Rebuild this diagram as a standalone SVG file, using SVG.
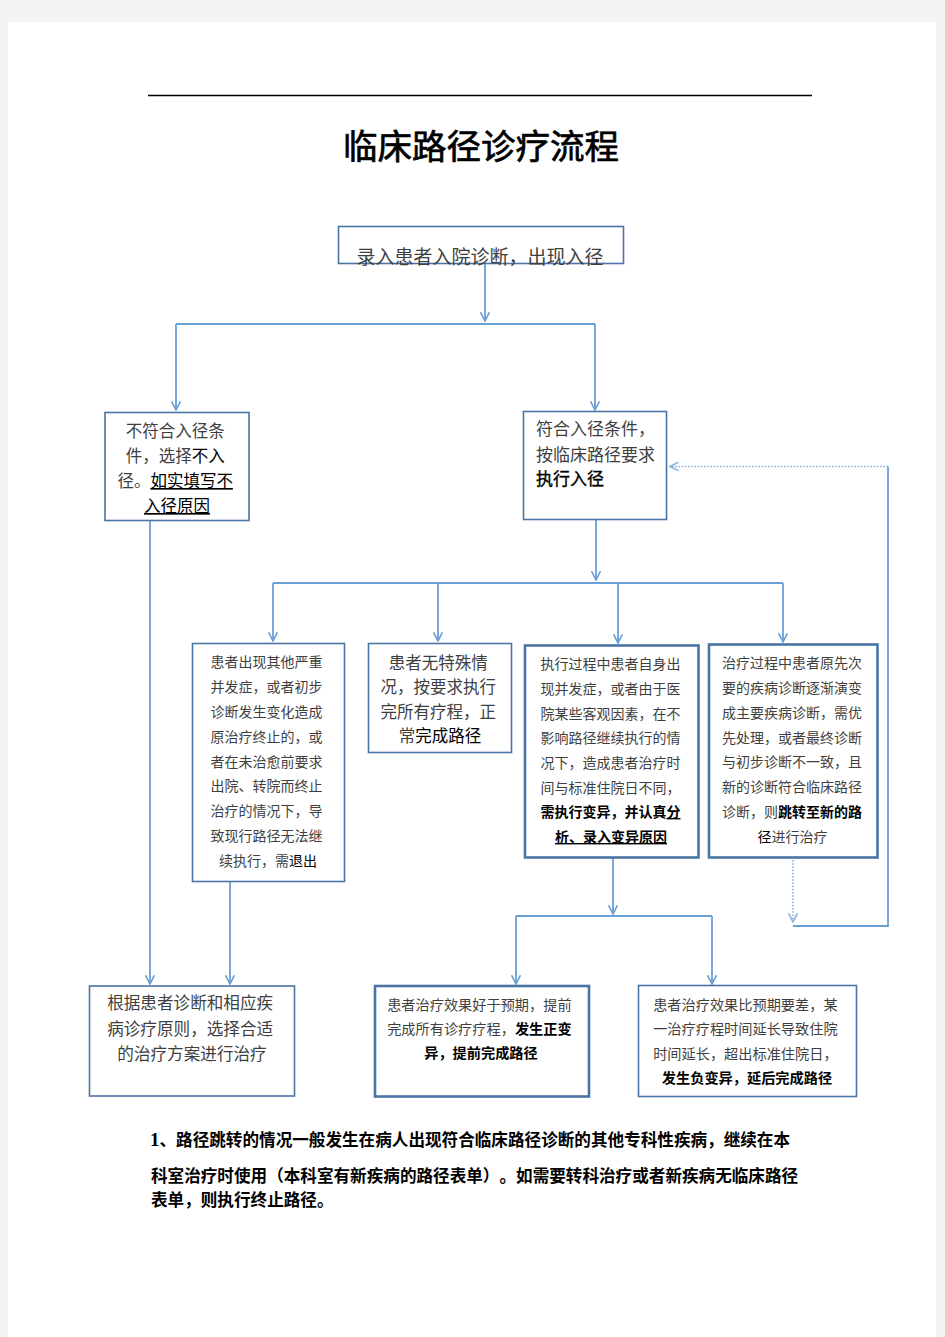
<svg xmlns="http://www.w3.org/2000/svg" width="945" height="1337" viewBox="0 0 945 1337">
<defs>
<style>
.t{font-family:"Noto Sans CJK SC","Noto Sans",sans-serif;fill:#3f3f3f;text-spacing-trim:space-all}
.k{fill:#000}
.b{fill:#000;font-weight:bold}
.u{text-decoration:underline}
.box{fill:#fff;stroke:#4a74a4;stroke-width:1.6}
.box2{fill:#fff;stroke:#4a74a4;stroke-width:2.6}
.c{fill:none;stroke:#6a9fd6;stroke-width:1.8}
.d{fill:none;stroke:#8ab4e0;stroke-width:1.6;stroke-dasharray:1.6 1.6}
</style>
<marker id="ah" viewBox="0 0 10 10" refX="9.3" refY="5" markerWidth="10" markerHeight="10" markerUnits="userSpaceOnUse" orient="auto">
<path d="M0.6,0.6 L9.3,5 L0.6,9.4" fill="none" stroke="#6a9fd6" stroke-width="1.6"/>
</marker>
<marker id="ahd" viewBox="0 0 10 10" refX="9.3" refY="5" markerWidth="10" markerHeight="10" markerUnits="userSpaceOnUse" orient="auto">
<path d="M0.6,0.6 L9.3,5 L0.6,9.4" fill="none" stroke="#8ab4e0" stroke-width="1.6"/>
</marker>
</defs>
<rect x="0" y="0" width="945" height="1337" fill="#f3f3f3"/>
<rect x="8" y="22" width="928" height="1315" fill="#fff"/>
<line x1="148" y1="95.5" x2="812" y2="95.5" stroke="#000" stroke-width="1.3"/>
<text class="t k" x="481" y="159" font-size="34.5" text-anchor="middle" stroke="#000" stroke-width="0.7">临床路径诊疗流程</text>

<g id="connectors">
<path class="c" d="M485,263 V321" marker-end="url(#ah)"/>
<path class="c" d="M176,324 H595"/>
<path class="c" d="M176,324 V410" marker-end="url(#ah)"/>
<path class="c" d="M595,324 V410" marker-end="url(#ah)"/>
<path class="c" d="M150,521 V984" marker-end="url(#ah)"/>
<path class="c" d="M230,882 V984" marker-end="url(#ah)"/>
<path class="c" d="M596,520 V580" marker-end="url(#ah)"/>
<path class="c" d="M273,583 H783"/>
<path class="c" d="M273,583 V641" marker-end="url(#ah)"/>
<path class="c" d="M438,583 V641" marker-end="url(#ah)"/>
<path class="c" d="M618,583 V643" marker-end="url(#ah)"/>
<path class="c" d="M783,583 V642" marker-end="url(#ah)"/>
<path class="c" d="M613,858 V914" marker-end="url(#ah)"/>
<path class="c" d="M516,916 H712"/>
<path class="c" d="M516,916 V984" marker-end="url(#ah)"/>
<path class="c" d="M712,916 V984" marker-end="url(#ah)"/>
<path class="d" d="M793,860 V922" marker-end="url(#ahd)"/>
<path class="c" d="M793,926 H888 V466.5"/>
<path class="d" d="M888,466.5 H670" marker-end="url(#ahd)"/>
</g>

<g id="n-start">
<rect class="box" x="338.5" y="226.5" width="285" height="37"/>
<text class="t" x="480" y="264" font-size="19" text-anchor="middle">录入患者入院诊断，出现入径</text>
</g>

<g id="n-reject">
<rect class="box" x="105" y="412.5" width="144" height="108"/>
<text class="t" font-size="16.5" text-anchor="middle">
<tspan x="177" y="437">不符合入径条</tspan>
<tspan x="177" y="462">件，选择<tspan class="k">不入</tspan></tspan>
<tspan x="177" y="487">径。<tspan class="k u">如实填写不</tspan></tspan>
<tspan x="177" y="512" class="k u">入径原因</tspan>
</text>
</g>

<g id="n-accept">
<rect class="box" x="523.5" y="411.5" width="143" height="108"/>
<text class="t" font-size="17">
<tspan x="536" y="435">符合入径条件，</tspan>
<tspan x="536" y="461">按临床路径要求</tspan>
<tspan x="536" y="485" class="k" stroke="#000" stroke-width="0.35">执行入径</tspan>
</text>
</g>

<g id="n-exit">
<rect class="box" x="192.5" y="643.5" width="152" height="238"/>
<text class="t" font-size="14" text-anchor="middle">
<tspan x="268" y="667">患者出现其他严重</tspan>
<tspan x="268" y="692">并发症，或者初步</tspan>
<tspan x="268" y="717">诊断发生变化造成</tspan>
<tspan x="268" y="742">原治疗终止的，或</tspan>
<tspan x="268" y="767">者在未治愈前要求</tspan>
<tspan x="268" y="791">出院、转院而终止</tspan>
<tspan x="268" y="816">治疗的情况下，导</tspan>
<tspan x="268" y="841">致现行路径无法继</tspan>
<tspan x="268" y="866">续执行，需<tspan class="k">退出</tspan></tspan>
</text>
</g>

<g id="n-normal">
<rect class="box" x="368.5" y="643.5" width="143" height="109"/>
<text class="t" font-size="16.5" text-anchor="middle">
<tspan x="440" y="669">患者无特殊情</tspan>
<tspan x="440" y="693">况，按要求执行</tspan>
<tspan x="440" y="718">完所有疗程，正</tspan>
<tspan x="440" y="742">常<tspan class="k">完成路径</tspan></tspan>
</text>
</g>

<g id="n-variant">
<rect class="box2" x="525" y="645.5" width="173.5" height="212"/>
<text class="t" font-size="14">
<tspan x="540.5" y="669">执行过程中患者自身出</tspan>
<tspan x="540.5" y="694">现并发症，或者由于医</tspan>
<tspan x="540.5" y="719">院某些客观因素，在不</tspan>
<tspan x="540.5" y="743">影响路径继续执行的情</tspan>
<tspan x="540.5" y="768">况下，造成患者治疗时</tspan>
<tspan x="540.5" y="793">间与标准住院日不同，</tspan>
<tspan x="540.5" y="817" class="b">需执行变异，并认真<tspan class="u">分</tspan></tspan>
<tspan x="611" y="842" class="b u" text-anchor="middle">析、录入变异原因</tspan>
</text>
</g>

<g id="n-jump">
<rect class="box2" x="709" y="644.5" width="168.5" height="213"/>
<text class="t" font-size="14">
<tspan x="722" y="668">治疗过程中患者原先次</tspan>
<tspan x="722" y="693">要的疾病诊断逐渐演变</tspan>
<tspan x="722" y="718">成主要疾病诊断，需优</tspan>
<tspan x="722" y="743">先处理，或者最终诊断</tspan>
<tspan x="722" y="767">与初步诊断不一致，且</tspan>
<tspan x="722" y="792">新的诊断符合临床路径</tspan>
<tspan x="722" y="817">诊断，则<tspan class="b">跳转至新的路</tspan></tspan>
<tspan x="792.5" y="842" text-anchor="middle"><tspan class="k">径</tspan>进行治疗</tspan>
</text>
</g>

<g id="n-treat">
<rect class="box" x="89.5" y="986" width="205" height="110"/>
<text class="t" font-size="16.6" text-anchor="middle">
<tspan x="192" y="1009">根据患者诊断和相应疾</tspan>
<tspan x="192" y="1035">病诊疗原则，选择合适</tspan>
<tspan x="192" y="1060">的治疗方案进行治疗</tspan>
</text>
</g>

<g id="n-early">
<rect class="box2" x="375" y="986" width="214" height="110.5"/>
<text class="t" font-size="14.2" text-anchor="middle">
<tspan x="481" y="1010">患者治疗效果好于预期，提前</tspan>
<tspan x="481" y="1034">完成所有诊疗疗程，<tspan class="b">发生正变</tspan></tspan>
<tspan x="481" y="1058" class="b">异，提前完成路径</tspan>
</text>
</g>

<g id="n-late">
<rect class="box" x="638.5" y="985.5" width="218" height="111"/>
<text class="t" font-size="14.2" text-anchor="middle">
<tspan x="747" y="1010">患者治疗效果比预期要差，某</tspan>
<tspan x="747" y="1034">一治疗疗程时间延长导致住院</tspan>
<tspan x="747" y="1059">时间延长，超出标准住院日，</tspan>
<tspan x="747" y="1083" class="b">发生负变异，延后完成路径</tspan>
</text>
</g>

<g id="footer">
<text class="t b" font-size="16.6">
<tspan x="150" y="1146"><tspan font-family="Liberation Serif" font-size="19">1</tspan>、路径跳转的情况一般发生在病人出现符合临床路径诊断的其他专科性疾病，继续在本</tspan>
<tspan x="151" y="1182">科室治疗时使用（本科室有新疾病的路径表单）。如需要转科治疗或者新疾病无临床路径</tspan>
<tspan x="151" y="1206">表单，则执行终止路径。</tspan>
</text>
</g>
</svg>
